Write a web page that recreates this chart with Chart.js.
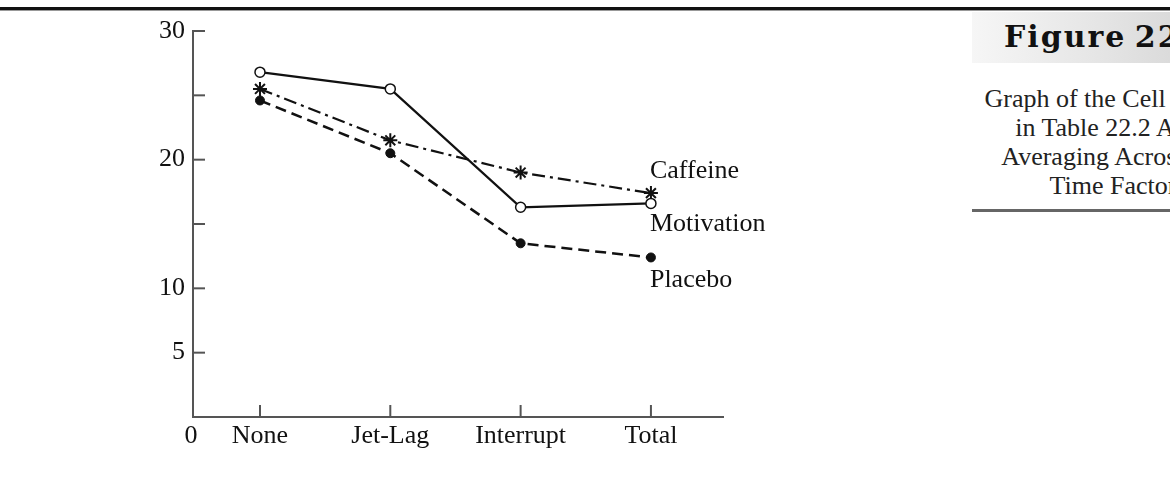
<!DOCTYPE html>
<html>
<head>
<meta charset="utf-8">
<script src="https://cdn.jsdelivr.net/npm/chart.js@4.4.0/dist/chart.umd.min.js"></script>
<style>
  html, body { margin:0; padding:0; background:#fff; width:1170px; height:486px; overflow:hidden; }
  #topline { position:absolute; left:0; top:7px; width:1170px; height:3px; background:#111; border-bottom:1px solid #999; }
  #wrap { position:absolute; left:0; top:0; width:960px; height:486px; }
  #panel { position:absolute; left:972px; top:12px; width:300px; }
  #head { height:51px; background:linear-gradient(to right,#f6f6f6 0%,#e6e6e6 40%,#cccccc 100%); 
          font-family:"DejaVu Serif", serif; font-weight:bold; font-size:30px; letter-spacing:2px; word-spacing:-4px;
          line-height:49px; padding-left:32px; white-space:nowrap; color:#111; }
  #cap { font-family:"Liberation Serif", serif; font-size:26px; line-height:29px; color:#222;
         text-align:center; width:282px; margin-top:21px; white-space:nowrap; }
  #rule { position:absolute; left:972px; top:209px; width:200px; height:3px; background:#666; }
</style>
</head>
<body>
<div id="topline"></div>
<div id="wrap"><canvas id="c" width="960" height="486"></canvas></div>
<div id="panel">
  <div id="head">Figure 22.2</div>
  <div id="cap">Graph of the Cell Means<br>in Table 22.2 After<br>Averaging Across the<br>Time Factor</div>
</div>
<div id="rule"></div>
<script>
const categories = ["None", "Jet-Lag", "Interrupt", "Total"];
const motivation = [26.8, 25.5, 16.3, 16.6];
const caffeine   = [25.5, 21.5, 19.0, 17.4];
const placebo    = [24.6, 20.5, 13.5, 12.4];
const yTickValues = [5, 10, 15, 20, 25, 30];
const yLabelled   = [5, 10, 20, 30];
const seriesNames = ["Motivation", "Caffeine", "Placebo"];

const FONT = "Liberation Serif";
const pts = arr => arr.map((v, i) => ({ x: i, y: v }));

const custom = {
  id: 'custom',
  afterDraw(chart) {
    const ctx = chart.ctx;
    const x = chart.scales.x, y = chart.scales.y;
    const area = chart.chartArea;
    ctx.save();
    ctx.strokeStyle = '#555';
    ctx.lineWidth = 2;
    yTickValues.forEach(v => {
      const py = y.getPixelForValue(v);
      ctx.beginPath(); ctx.moveTo(area.left, py); ctx.lineTo(area.left + 12, py); ctx.stroke();
    });
    categories.forEach((c, i) => {
      const px = x.getPixelForValue(i);
      ctx.beginPath(); ctx.moveTo(px, area.bottom); ctx.lineTo(px, area.bottom - 12); ctx.stroke();
    });
    ctx.fillStyle = '#111';
    ctx.font = '26px "' + FONT + '"';
    ctx.textAlign = 'center';
    ctx.textBaseline = 'middle';
    ctx.fillText('0', area.left - 2, area.bottom + 19);
    ctx.textAlign = 'left';
    const last = categories.length - 1;
    const offs = { "Caffeine": -22, "Motivation": 21, "Placebo": 23 };
    chart.data.datasets.forEach(ds => {
      const px = x.getPixelForValue(last);
      const py = y.getPixelForValue(ds.data[last].y) + offs[ds.label];
      ctx.fillText(ds.label, px - 1, py);
    });
    ctx.restore();
  }
};

new Chart(document.getElementById('c'), {
  type: 'line',
  data: {
    datasets: [
      { label: seriesNames[0], data: pts(motivation), borderColor: '#111', borderWidth: 2.2,
        pointStyle: 'circle', pointRadius: 5, pointBackgroundColor: '#fff', pointBorderColor: '#111', pointBorderWidth: 1.5 },
      { label: seriesNames[1], data: pts(caffeine), borderColor: '#111', borderWidth: 2.2, borderDash: [13, 5, 3, 5],
        pointStyle: 'star', pointRadius: 7, pointBorderColor: '#111', pointBorderWidth: 2 },
      { label: seriesNames[2], data: pts(placebo), borderColor: '#111', borderWidth: 2.5, borderDash: [11, 6],
        pointStyle: 'circle', pointRadius: 4.5, pointBackgroundColor: '#111', pointBorderColor: '#111', pointBorderWidth: 1 }
    ]
  },
  options: {
    responsive: false,
    animation: false,
    layout: { padding: { left: 0, right: 237, top: 31, bottom: 0 } },
    plugins: { legend: { display: false }, tooltip: { enabled: false } },
    scales: {
      x: {
        type: 'linear', min: -0.514, max: 3.553,
        grid: { display: false, drawTicks: false, tickLength: 0 },
        border: { display: true, color: '#555', width: 2 },
        afterBuildTicks(s) { s.ticks = categories.map((c, i) => ({ value: i })); },
        ticks: { color: '#111', font: { family: FONT, size: 26 }, padding: 4, maxRotation: 0, autoSkip: false,
                 callback: v => categories[v] },
        afterFit(s) { s.height = 69; }
      },
      y: {
        min: 0, max: 30,
        grid: { display: false, drawTicks: false, tickLength: 0 },
        border: { display: true, color: '#555', width: 2 },
        ticks: { stepSize: 5, color: '#111', font: { family: FONT, size: 26 }, padding: 8,
                 callback: v => yLabelled.includes(v) ? String(v) : '' },
        afterFit(s) { s.width = 193; }
      }
    }
  },
  plugins: [custom]
});
</script>
</body>
</html>
